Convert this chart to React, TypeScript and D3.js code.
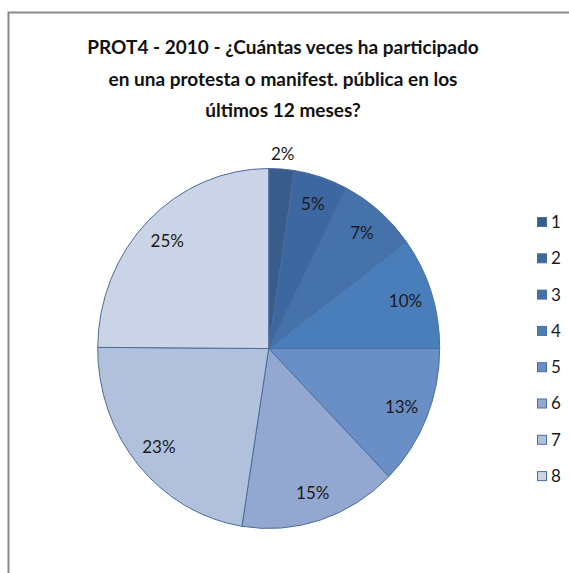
import React from "react";
import * as d3 from "d3";

const categories = ["1", "2", "3", "4", "5", "6", "7", "8"];
const values = [2.4, 5.1, 7.4, 10.1, 12.6, 14.9, 22.6, 24.9];
const colors = ["#385d8a", "#3d67a0", "#4572aa", "#4a7ebb", "#6a8ec6", "#93a8d0", "#b1c1dc", "#cad4e6"];
const titleLines = [
  "PROT4 - 2010 - ¿Cuántas veces ha participado",
  "en una protesta o manifest. pública en los",
  "últimos 12 meses?",
];

export default function App() {
  const W = 569, H = 573;
  const cx = 268.7, cy = 348.5, r = 171, sy = 180 / 171;
  const total = d3.sum(values);
  const pie = d3.pie<number>().sort(null).value((d) => d).startAngle(0).endAngle(2 * Math.PI);
  const arcs = pie(values);
  const arc = d3.arc<d3.PieArcDatum<number>>().innerRadius(0).outerRadius(r);
  const font = "Lato, 'Open Sans', sans-serif";
  return (
    <svg width={W} height={H} style={{ position: "absolute", left: 0, top: 0 }}>
      <rect x={0} y={0} width={W} height={H} fill="#fff" />
      <path d={`M8.5,${H} L8.5,12.5 L${W},12.5`} fill="none" stroke="#8a8a8a" strokeWidth={2} />
      {titleLines.map((t, i) => (
        <text key={i} x={283} y={54 + i * 31.5} textAnchor="middle" fontFamily={font} fontWeight="bold" fontSize={19} fill="#111">
          {t}
        </text>
      ))}
      <g transform={`translate(${cx},${cy}) scale(1,${sy})`}>
        {arcs.map((a, i) => (
          <path key={i} d={arc(a) || ""} fill={colors[i]} stroke="#4a6d9c" strokeWidth={1} vectorEffect="non-scaling-stroke" />
        ))}
      </g>
      {arcs.map((a, i) => {
        const mid = (a.startAngle + a.endAngle) / 2;
        const pct = (a.value / total) * 100;
        const rr = pct < 3 ? 185 : 144;
        const x = cx + rr * Math.sin(mid);
        const y = cy - rr * Math.cos(mid) * sy;
        return (
          <text key={i} x={x} y={y} dy="0.35em" textAnchor="middle" fontFamily={font} fontSize={17} fill="#1a1a1a">
            {Math.round(pct) + "%"}
          </text>
        );
      })}
      {categories.map((c, i) => {
        const y = 222 + i * 36.3;
        return (
          <g key={c}>
            <rect x={537.5} y={y - 4.5} width={9} height={9} fill={colors[i]} stroke="#4a6d9c" strokeWidth={1} />
            <text x={551} y={y} dy="0.35em" fontFamily={font} fontSize={17} fill="#1a1a1a">
              {c}
            </text>
          </g>
        );
      })}
    </svg>
  );
}
